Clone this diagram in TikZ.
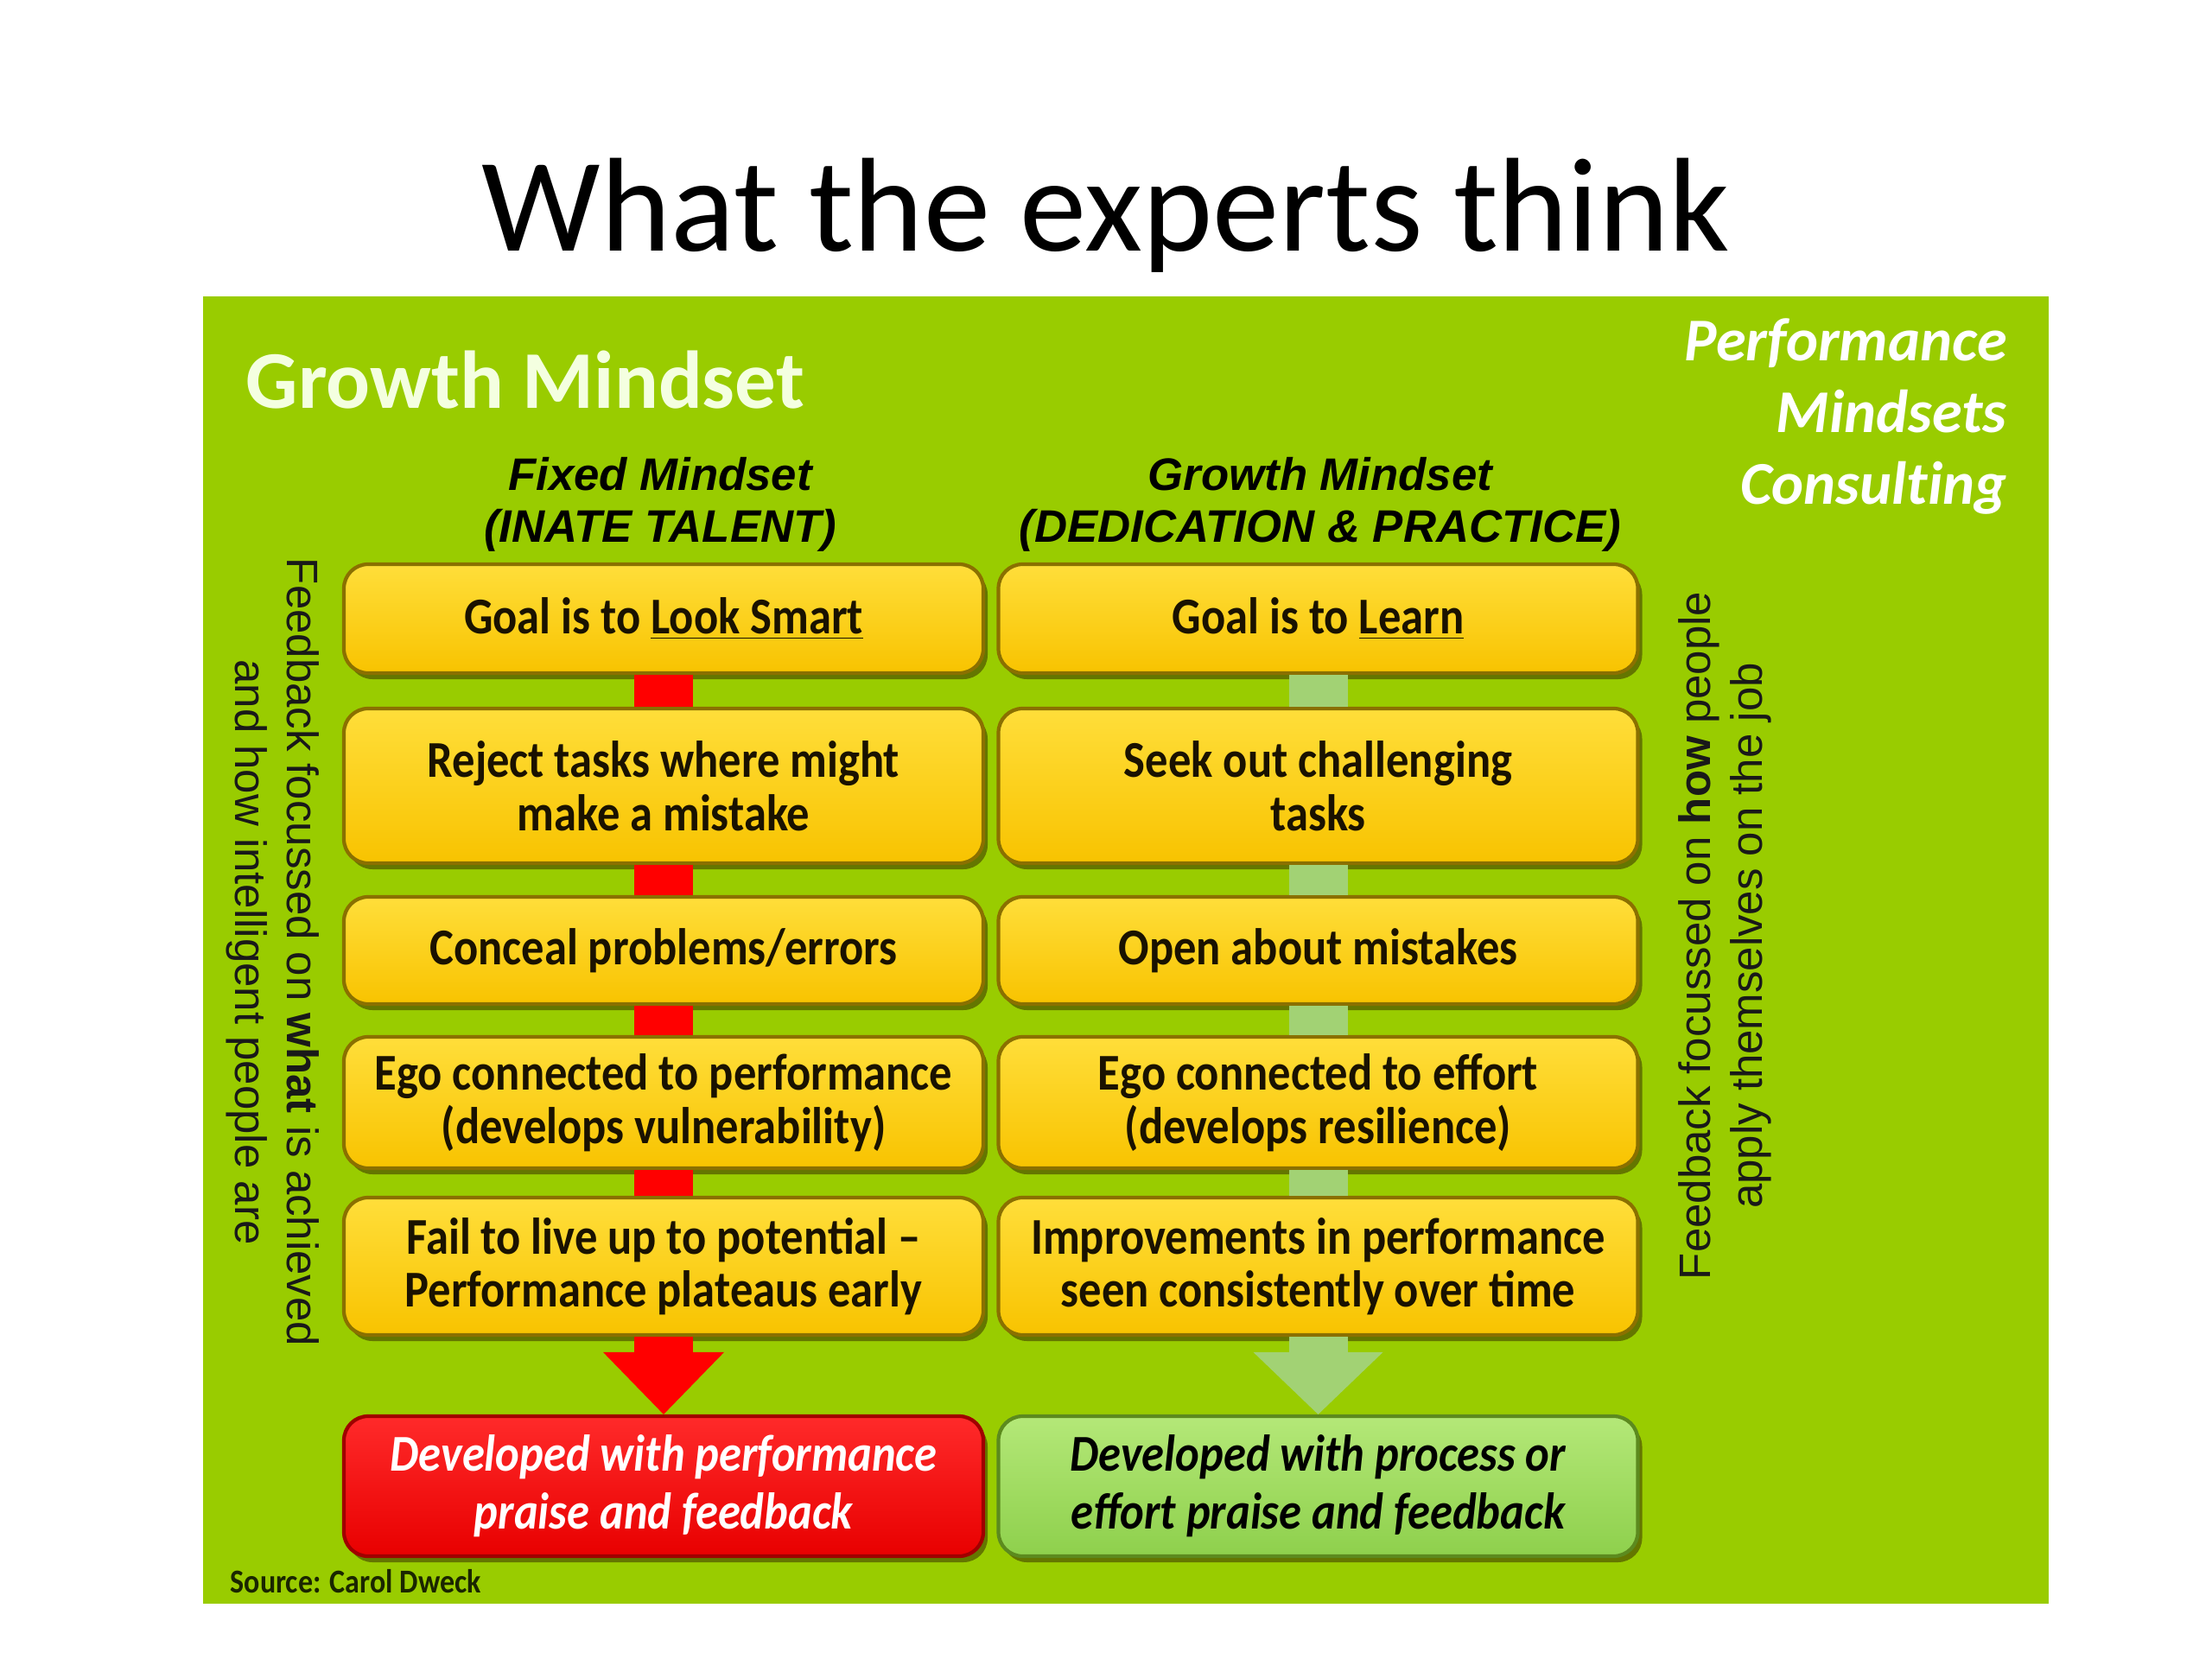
\documentclass[tikz,border=0pt]{standalone}
\usepackage{fontspec}
\setmainfont{Carlito}[Ligatures={TeX,NoCommon}]
\newfontfamily\boxfont[FakeStretch=0.88]{Carlito}
\newfontfamily\armfont{Liberation Sans}
\usetikzlibrary{arrows.meta,shadows}

\definecolor{panelgreen}{HTML}{99CC00}
\definecolor{boxtop}{HTML}{FFDE3A}
\definecolor{boxbot}{HTML}{F8C300}
\definecolor{boxedge}{HTML}{8A7000}
\definecolor{boxshade}{HTML}{4E5200}
\definecolor{boxtext}{HTML}{1A1200}
\definecolor{barred}{HTML}{FF0000}
\definecolor{bargreen}{HTML}{A2D274}
\definecolor{redtop}{HTML}{FF2A2A}
\definecolor{redbot}{HTML}{E80000}
\definecolor{rededge}{HTML}{A00000}
\definecolor{greentop}{HTML}{B4E878}
\definecolor{greenbot}{HTML}{8ED04C}
\definecolor{greenedge}{HTML}{5C8A1E}
\definecolor{headwhite}{HTML}{F4FFE0}
\definecolor{srctext}{HTML}{1A2600}

\tikzset{
  mindbox/.style={rounded corners=0.28cm, minimum width=7.4cm, align=center,
    inner sep=2pt, draw=boxedge, line width=1.2pt,
    top color=boxtop, bottom color=boxbot,
    drop shadow={shadow xshift=0.05cm, shadow yshift=-0.07cm, fill=boxshade, opacity=0.7},
    font=\boxfont\bfseries\fontsize{17}{17.5}\selectfont, text=boxtext},
  redbox/.style={mindbox, draw=rededge, top color=redtop, bottom color=redbot,
    font=\boxfont\bfseries\itshape\fontsize{17}{19}\selectfont, text=white},
  greenbox/.style={mindbox, draw=greenedge, top color=greentop, bottom color=greenbot,
    font=\boxfont\bfseries\itshape\fontsize{17}{19}\selectfont, text=black},
  colhead/.style={font=\armfont\bfseries\itshape\fontsize{15}{17}\selectfont, align=center, text=black},
  sidetext/.style={font=\armfont\fontsize{14.5}{17}\selectfont, align=center, text=black!90},
  redbar/.style={draw=barred, line width=0.68cm},
  greenbar/.style={draw=bargreen, line width=0.68cm}
}

\begin{document}
\begin{tikzpicture}
\useasboundingbox (0,0) rectangle (25.6,-19.2);
\fill[white] (0,0) rectangle (25.6,-19.2);

\node[font=\fontsize{44}{50}\selectfont, anchor=base] (title) at (12.8,-2.906) {What the experts think};

% the green slide
\fill[panelgreen] (2.35,-3.43) rectangle (23.71,-18.56);

\node[font=\bfseries\fontsize{27}{30}\selectfont, text=headwhite, anchor=base west, inner sep=0] (brand) at (2.84,-4.73) {Growth Mindset};
\node[font=\bfseries\itshape\fontsize{20}{23.5}\selectfont, text=white, align=right, anchor=east] (pmc) at (23.35,-4.82) {Performance\\Mindsets\\Consulting};

\node[colhead] (fixhead) at (7.64,-5.84) {Fixed Mindset\\(INATE TALENT)};
\node[colhead] (growhead) at (15.28,-5.84) {Growth Mindset\\(DEDICATION \& PRACTICE)};

% fixed column
\node[mindbox, minimum height=1.26cm] (f1) at (7.68,-7.16) {Goal is to \underline{Look Smart}};
\node[mindbox, minimum height=1.79cm] (f2) at (7.68,-9.095) {Reject tasks where might\\make a mistake};
\node[mindbox, minimum height=1.24cm] (f3) at (7.68,-11.0) {Conceal problems/errors};
\node[mindbox, minimum height=1.52cm] (f4) at (7.68,-12.76) {Ego connected to performance\\(develops vulnerability)};
\node[mindbox, minimum height=1.59cm] (f5) at (7.68,-14.655) {Fail to live up to potential –\\Performance plateaus early};
\node[redbox, minimum height=1.62cm] (f6) at (7.68,-17.2) {Developed with performance\\praise and feedback};

% growth column
\node[mindbox, minimum height=1.26cm] (g1) at (15.255,-7.16) {Goal is to \underline{Learn}};
\node[mindbox, minimum height=1.79cm] (g2) at (15.255,-9.095) {Seek out challenging\\tasks};
\node[mindbox, minimum height=1.24cm] (g3) at (15.255,-11.0) {Open about mistakes};
\node[mindbox, minimum height=1.52cm] (g4) at (15.255,-12.76) {Ego connected to effort\\(develops resilience)};
\node[mindbox, minimum height=1.59cm] (g5) at (15.255,-14.655) {Improvements in performance\\seen consistently over time};
\node[greenbox, minimum height=1.62cm] (g6) at (15.255,-17.2) {Developed with process or\\effort praise and feedback};

\foreach \a/\b in {f1/f2,f2/f3,f3/f4,f4/f5}
  \draw[redbar] (\a) -- (\b);
\foreach \a/\b in {g1/g2,g2/g3,g3/g4,g4/g5}
  \draw[greenbar] (\a) -- (\b);
\draw[redbar, -{Triangle[length=0.72cm, width=1.4cm, line width=0pt]}] (f5) -- (f6);
\draw[greenbar, -{Triangle[length=0.72cm, width=1.5cm, line width=0pt]}] (g5) -- (g6);

\node[sidetext, rotate=-90] (whatfb) at (3.16,-11.02) {Feedback focussed on \textbf{what} is achieved\\and how intelligent people are};
\node[sidetext, rotate=90] (howfb) at (19.96,-10.83) {Feedback focussed on \textbf{how} people\\apply themselves on the job};

\node[font=\boxfont\bfseries\fontsize{11}{12}\selectfont, text=srctext, anchor=west, inner sep=0] (src) at (2.66,-18.30) {Source: Carol Dweck};
\end{tikzpicture}
\end{document}
